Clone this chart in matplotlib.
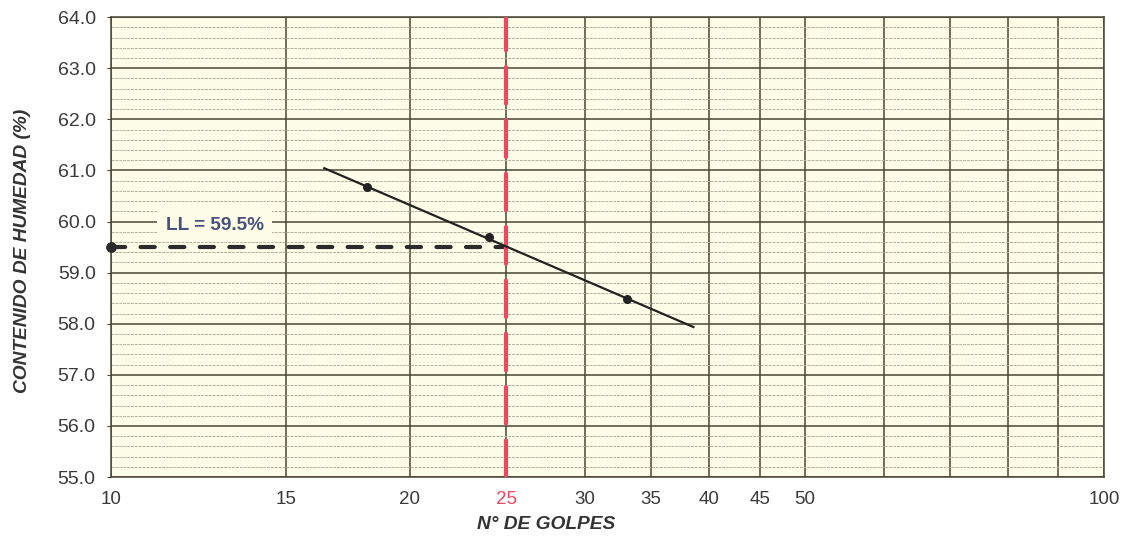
import numpy as np
import matplotlib
matplotlib.use("Agg")
import matplotlib.pyplot as plt
from matplotlib.ticker import FixedLocator, NullFormatter, MultipleLocator

# ensayo de limite liquido
golpes = [18.1, 24.0, 33.1]
humedad = [60.67, 59.69, 58.48]
trend_x = [16.4, 38.6]
ll_golpes = 25
ll_value = 59.5
x_ticks = [10, 15, 20, 25, 30, 35, 40, 45, 50, 100]
x_grid = [10, 15, 20, 25, 30, 35, 40, 45, 50, 60, 70, 80, 90, 100]

plt.rcParams['font.family'] = ['Liberation Sans', 'DejaVu Sans']

fig = plt.figure(figsize=(11.27, 5.36), dpi=100)
ax = fig.add_axes([0.0985, 0.110, 0.881, 0.858])
ax.set_facecolor('#fdfde8')

ax.set_xscale('log')
ax.set_xlim(10, 100)
ax.set_ylim(55, 64)

# grid like the printed form
ax.xaxis.set_major_locator(FixedLocator(x_grid))
ax.xaxis.set_minor_locator(FixedLocator([]))
ax.xaxis.set_minor_formatter(NullFormatter())
ax.set_xticklabels([str(v) if v in x_ticks else '' for v in x_grid])
ax.yaxis.set_major_locator(MultipleLocator(1.0))
ax.yaxis.set_minor_locator(MultipleLocator(0.2))
ax.yaxis.set_major_formatter(matplotlib.ticker.FormatStrFormatter('%.1f'))
ax.grid(True, which='major', axis='both', color='#4a4633', lw=1.1)
ax.grid(True, which='minor', axis='y', color='#b3b0a0', lw=0.7, ls=(0, (3, 1)))
ax.set_axisbelow(True)
for s in ax.spines.values():
    s.set_color('#4a4633')
    s.set_linewidth(1.1)

ax.tick_params(axis='x', which='both', length=0, pad=10, labelsize=13.5, labelcolor='#3a3a3a')
ax.tick_params(axis='y', which='major', length=3, color='#4a4633', pad=8, labelsize=14, labelcolor='#3a3a3a')
ax.tick_params(axis='y', which='minor', length=0)
for lbl in ax.get_xticklabels():
    if lbl.get_text() == '25':
        lbl.set_color('#e84a5f')

# curva de fluidez
coef = np.polyfit(np.log10(golpes), humedad, 1)
ty = np.polyval(coef, np.log10(trend_x))
ax.plot(trend_x, ty, color='#222222', lw=1.6, zorder=4)
ax.scatter(golpes, humedad, s=30, color='#222222', zorder=5)

# limite liquido
ax.plot([10, ll_golpes], [ll_value, ll_value], color='#2b2b2b', lw=3, ls=(0, (3.4, 3.7)),
        dash_capstyle='round', zorder=3)
ax.scatter([10], [ll_value], s=45, color='#2b2b2b', zorder=5, clip_on=False)
ax.axvline(ll_golpes, color='#e84a5f', lw=3, ls=(0, (8.8, 4.0)), dash_capstyle='round', zorder=3)

ax.text(12.72, 59.93, 'LL = ' + str(ll_value) + '%', fontsize=13.7, fontweight='bold',
        color='#48517e', ha='center', va='center', zorder=6,
        bbox=dict(boxstyle='square,pad=0.45', fc='#fdfde8', ec='none'))

ax.set_xlabel('N° DE GOLPES', fontsize=13.8, fontweight='bold', fontstyle='italic',
              color='#333333')
ax.set_ylabel('CONTENIDO DE HUMEDAD (%)', fontsize=13.8, fontweight='bold', fontstyle='italic',
              color='#333333')
ax.xaxis.set_label_coords(0.438, -0.085)
ax.yaxis.set_label_coords(-0.081, 0.491)

fig.savefig('out.png', dpi=100, facecolor='white')
